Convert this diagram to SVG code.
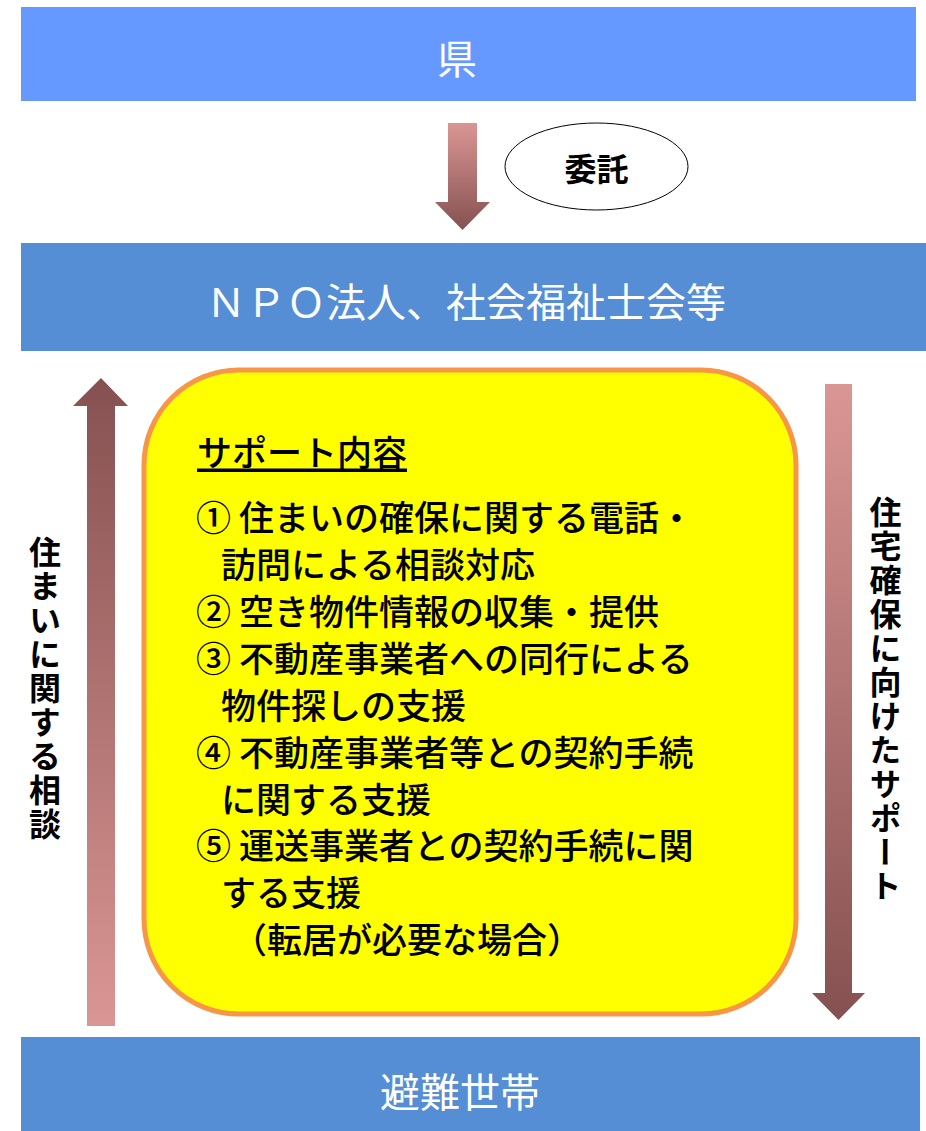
<svg xmlns="http://www.w3.org/2000/svg" width="926" height="1131" viewBox="0 0 926 1131">
  <defs>
    <linearGradient id="gDown" x1="0" y1="0" x2="0" y2="1">
      <stop offset="0" stop-color="#DA9694"/>
      <stop offset="1" stop-color="#855150"/>
    </linearGradient>
    <linearGradient id="gUp" x1="0" y1="0" x2="0" y2="1">
      <stop offset="0" stop-color="#855150"/>
      <stop offset="1" stop-color="#DA9694"/>
    </linearGradient>
    <style>
      .box { fill: #558ED5; }
      .wt { fill: #FFFFFF; font-family: "Noto Sans CJK JP", "Noto Sans", sans-serif; font-size: 40px; text-anchor: middle; dominant-baseline: central; }
      .yt { fill: #000000; font-family: "Noto Sans CJK JP", "Noto Sans", sans-serif; font-size: 35px; font-weight: 500; dominant-baseline: central; }
      .vt { fill: #000000; font-family: "Noto Sans CJK JP", "Noto Sans", sans-serif; font-size: 32px; font-weight: bold; writing-mode: vertical-rl; letter-spacing: 2px; }
    </style>
  </defs>

  <g id="connectors">
    <polygon id="arrow-itaku" points="448,123 477,123 477,202 490,202 462.5,230 435,202 448,202" fill="url(#gDown)"/>
    <polygon id="arrow-soudan" points="87,1026 115,1026 115,406 128,406 101,378 73,406 87,406" fill="url(#gUp)"/>
    <polygon id="arrow-support" points="825,384 852,384 852,993 865,993 838.5,1020 812,993 825,993" fill="url(#gDown)"/>
  </g>

  <g id="node-ken">
    <rect x="21" y="7" width="895" height="94" fill="#6699FF"/>
    <text class="wt" x="457" y="57">県</text>
  </g>

  <g id="node-npo">
    <rect class="box" x="21" y="243" width="905" height="108"/>
    <text class="wt" x="466" y="300" font-size="41">ＮＰＯ法人、社会福祉士会等</text>
  </g>

  <g id="label-itaku">
    <ellipse cx="596.5" cy="166.5" rx="91.5" ry="43.5" fill="#FFFFFF" stroke="#000000" stroke-width="1"/>
    <text x="596.5" y="166.5" fill="#000000" font-family="'Noto Sans CJK JP', 'Noto Sans', sans-serif" font-size="32" font-weight="bold" text-anchor="middle" dominant-baseline="central">委託</text>
  </g>

  <g id="node-support">
    <rect x="144" y="370" width="652" height="644" rx="95" ry="95" fill="#FFFF00" stroke="#F79646" stroke-width="5"/>
    <text class="yt" x="197" y="450" text-decoration="underline">サポート内容</text>
    <text class="yt" x="196" y="515">① 住まいの確保に関する電話・</text>
    <text class="yt" x="221" y="562">訪問による相談対応</text>
    <text class="yt" x="196" y="609">② 空き物件情報の収集・提供</text>
    <text class="yt" x="196" y="656">③ 不動産事業者への同行による</text>
    <text class="yt" x="221" y="703">物件探しの支援</text>
    <text class="yt" x="196" y="750">④ 不動産事業者等との契約手続</text>
    <text class="yt" x="221" y="797">に関する支援</text>
    <text class="yt" x="196" y="843">⑤ 運送事業者との契約手続に関</text>
    <text class="yt" x="221" y="890">する支援</text>
    <text class="yt" x="232" y="937">（転居が必要な場合）</text>
  </g>

  <g id="label-soudan">
    <text class="vt" x="45" y="536">住まいに関する相談</text>
  </g>

  <g id="label-support">
    <text class="vt" x="885.5" y="496">住宅確保に向けたサポート</text>
  </g>

  <g id="node-hinan">
    <rect class="box" x="21" y="1037" width="899" height="94"/>
    <text class="wt" x="460" y="1090">避難世帯</text>
  </g>
</svg>
